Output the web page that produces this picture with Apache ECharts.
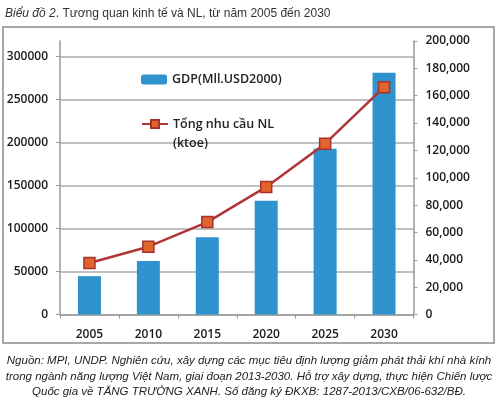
<!DOCTYPE html>
<html lang="vi" style="height: 100%">
<head>
    <meta charset="utf-8">
    <script src="https://cdn.jsdelivr.net/npm/echarts@6/dist/echarts.min.js"></script>
</head>
<body style="height: 100%; margin: 0; background: #fff">
<div id="container" style="width: 500px; height: 398px"></div>
<script type="text/javascript">
    // du lieu doc tu bieu do
    var years = ['2005', '2010', '2015', '2020', '2025', '2030'];
    var gdp = [44600, 62100, 89700, 132300, 192700, 281000];      // GDP (Mll.USD2000), truc trai
    var demand = [37700, 49600, 67600, 93300, 124900, 166200];    // Tong nhu cau NL (ktoe), truc phai
    var gdpName = 'GDP(Mll.USD2000)';
    var demandName = 'Tổng nhu cầu NL (ktoe)';
    var footer = 'Nguồn: MPI, UNDP. Nghiên cứu, xây dựng các mục tiêu định lượng giảm phát thải khí nhà kính\n' +
        'trong ngành năng lượng Việt Nam, giai đoạn 2013-2030. Hỗ trợ xây dựng, thực hiện Chiến lược\n' +
        'Quốc gia về TĂNG TRƯỞNG XANH. Số đăng ký ĐKXB: 1287-2013/CXB/06-632/BĐ.';

    var font = '"Open Sans", sans-serif';
    var axisText = {color: '#1a1a1a', fontFamily: font, fontWeight: 600, fontSize: 12};

    var myChart = echarts.init(document.getElementById('container'));
    var option = {
        animation: false,
        title: {
            text: '{i|Biểu đồ 2}{n|. Tương quan kinh tế và NL, từ năm 2005 đến 2030}',
            left: 0,
            top: 3,
            textStyle: {
                fontWeight: 'normal',
                rich: {
                    i: {fontStyle: 'italic', fontWeight: 'normal', fontFamily: '"Liberation Sans", Arial', fontSize: 12, color: '#333'},
                    n: {fontWeight: 'normal', fontFamily: '"Liberation Sans", Arial', fontSize: 12, color: '#333'}
                }
            }
        },
        graphic: [{
            type: 'rect',
            shape: {x: 3, y: 27, width: 491, height: 316},
            style: {fill: 'none', stroke: '#8a8a8a', lineWidth: 1.5},
            silent: true
        }, {
            type: 'text',
            x: 249,
            y: 353,
            silent: true,
            style: {
                text: footer,
                align: 'center',
                verticalAlign: 'top',
                font: 'italic 11.5px "Liberation Sans", Arial',
                lineHeight: 15.7,
                fill: '#222'
            }
        }],
        legend: [{
            data: [gdpName],
            left: 141,
            top: 73,
            padding: 0,
            itemWidth: 26,
            itemHeight: 10,
            textStyle: {color: '#222', fontFamily: font, fontWeight: 600, fontSize: 12.5}
        }, {
            data: [demandName],
            left: 141,
            top: 95.5,
            padding: 0,
            itemWidth: 26,
            itemHeight: 10,
            // dong trong phia tren de bieu tuong thang hang voi dong dau
            formatter: function () { return ' \nTổng nhu cầu NL\n(ktoe)'; },
            textStyle: {color: '#222', fontFamily: font, fontWeight: 600, fontSize: 12.5, lineHeight: 19}
        }],
        grid: {left: 60, right: 86.5, top: 41, bottom: 83.5},
        xAxis: {
            type: 'category',
            data: years,
            axisLine: {lineStyle: {color: '#9a9a9a', width: 1.5}},
            axisTick: {show: true, length: 4, lineStyle: {color: '#9a9a9a'}},
            axisLabel: Object.assign({margin: 14, fontSize: 12.5}, axisText)
        },
        yAxis: [{
            type: 'value',
            min: 0,
            max: 318000,
            interval: 50000,
            axisLine: {show: true, lineStyle: {color: '#9a9a9a', width: 1.5}},
            axisTick: {show: true, length: 4, lineStyle: {color: '#9a9a9a'}},
            axisLabel: Object.assign({
                margin: 12,
                showMaxLabel: false,
                formatter: function (v) { return String(v); }
            }, axisText),
            splitLine: {show: true, showMaxLine: false, lineStyle: {color: '#ababab', width: 1.5}}
        }, {
            type: 'value',
            min: 0,
            max: 200000,
            interval: 20000,
            axisLine: {show: true, lineStyle: {color: '#9a9a9a', width: 1.5}},
            axisTick: {show: true, length: 4, lineStyle: {color: '#9a9a9a'}},
            axisLabel: Object.assign({
                margin: 12,
                formatter: function (v) { return v.toLocaleString('en-US'); }
            }, axisText),
            splitLine: {show: false}
        }],
        series: [{
            name: gdpName,
            type: 'bar',
            yAxisIndex: 0,
            data: gdp,
            barWidth: 23,
            itemStyle: {color: '#2f93cd'}
        }, {
            name: demandName,
            type: 'line',
            yAxisIndex: 1,
            data: demand,
            symbol: 'rect',
            symbolSize: 11,
            lineStyle: {color: '#b0353a', width: 2.5},
            itemStyle: {color: '#e0642d', borderColor: '#a8302f', borderWidth: 1.5}
        }]
    };
    myChart.setOption(option);
</script>
</body>
</html>
